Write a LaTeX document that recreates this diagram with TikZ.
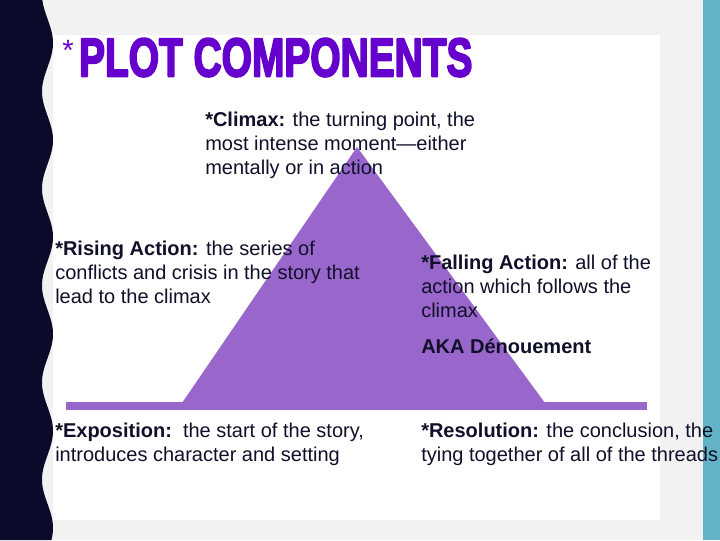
\documentclass[tikz,border=0pt]{standalone}
\usepackage{fontspec}
\setmainfont{Liberation Sans}
\usepackage{graphicx}
\definecolor{navy}{HTML}{0B0A2B}
\definecolor{bggray}{HTML}{F2F2F2}
\definecolor{teal}{HTML}{63B3C6}
\definecolor{tri}{HTML}{9966CC}
\definecolor{ttl}{HTML}{6600CC}
\definecolor{txt}{HTML}{10102A}
\tikzset{
  para/.style={anchor=base west, inner sep=0pt, text=txt,
    font=\fontsize{15pt}{18pt}\selectfont},
}
\newcommand{\lines}[1]{\begin{tabular}[t]{@{}l@{}}#1\end{tabular}}
\newcommand{\heavy}[1]{\special{pdf:literal direct 2 Tr 0.4 w 1 j}#1\special{pdf:literal direct 0 Tr 0 j}}
\begin{document}
\begin{tikzpicture}[x=0.75pt,y=-0.75pt]
\useasboundingbox (0,0) rectangle (720,540);
\fill[bggray] (0,0) rectangle (720,540);
\fill[white] (53,35) rectangle (660,520);
\fill[teal] (703,0) rectangle (720,540);
\fill[navy] (0,0) -- plot[domain=0:540, samples=220] ({47.5+5.5*cos(3.7113*(\x-43))}, \x) -- (0,540) -- cycle;
% plot diagram
\fill[tri] (182,403) -- (357,147) -- (545,403) -- cycle;
\fill[tri] (66,402) rectangle (647,410);
% title
\node[anchor=north west, inner sep=0pt, text=ttl, font=\fontsize{22pt}{22pt}\selectfont] (star) at (62,40) {*};
\node[anchor=south west, inner sep=0pt, text=ttl] (title) at (78.8,77)
  {\resizebox{295pt}{28.4pt}{\heavy{\bfseries PLOT COMPONENTS}}};
% texts
\node[para] (climax) at (205,126) {\lines{\textbf{*Climax:} the turning point, the\\ most intense moment---either\\ mentally or in action}};
\node[para] (rising) at (55,255) {\lines{\textbf{*Rising Action:} the series of\\ conflicts and crisis in the story that\\ lead to the climax}};
\node[para] (falling) at (421,269) {\lines{\textbf{*Falling Action:} all of the\\ action which follows the\\ climax}};
\node[para] (aka) at (421,353) {\textbf{AKA Dénouement}};
\node[para] (expo) at (55,437) {\lines{\textbf{*Exposition:}\ \ the start of the story,\\ introduces character and setting}};
\node[para] (resol) at (421,437) {\lines{\textbf{*Resolution:} the conclusion, the\\ tying together of all of the threads}};
\end{tikzpicture}
\end{document}
